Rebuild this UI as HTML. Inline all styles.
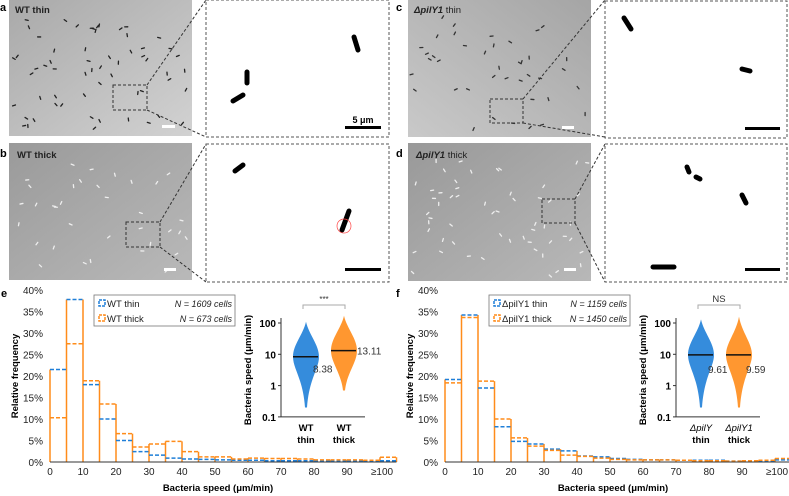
<!DOCTYPE html>
<html><head><meta charset="utf-8">
<style>
body{margin:0;background:#fff;}
svg{display:block;font-family:"Liberation Sans",Arial,sans-serif;}
</style></head>
<body>
<svg id="fig" width="789" height="496" viewBox="0 0 789 496" xmlns="http://www.w3.org/2000/svg">
<defs>
<linearGradient id="g1" x1="0" y1="0" x2="1" y2="1"><stop offset="0" stop-color="#a9a9a9"/><stop offset="1" stop-color="#d2d2d2"/></linearGradient>
<linearGradient id="g2" x1="0" y1="0" x2="1" y2="1"><stop offset="0" stop-color="#9a9a9a"/><stop offset="1" stop-color="#b9b9b9"/></linearGradient>
<linearGradient id="g3" x1="1" y1="0" x2="0" y2="1"><stop offset="0" stop-color="#a5a5a5"/><stop offset="1" stop-color="#c9c9c9"/></linearGradient>
<linearGradient id="g4" x1="0" y1="0" x2="1" y2="1"><stop offset="0" stop-color="#999"/><stop offset="1" stop-color="#b8b8b8"/></linearGradient>
</defs>
<g id="micro">
 <text x="0" y="11" font-size="11" font-weight="bold">a</text>
 <rect x="9" y="0" width="183" height="136" fill="url(#g1)"/>
 <g id="specksA"></g>
 <text x="15" y="13" font-size="9.5" font-weight="bold" fill="#222">WT thin</text>
 <rect x="113" y="85" width="34" height="25" fill="none" stroke="#333" stroke-dasharray="3,2"/>
 <line x1="147" y1="85" x2="206" y2="0" stroke="#333" stroke-dasharray="3,2"/>
 <line x1="147" y1="110" x2="206" y2="137" stroke="#333" stroke-dasharray="3,2"/>
 <rect x="162" y="125" width="13" height="3" fill="#fff"/>
 <rect x="206" y="0" width="183" height="137" fill="#fff" stroke="#555" stroke-dasharray="3,2"/>
 <rect x="345" y="126" width="36" height="3" fill="#000"/>
 <text x="363" y="123" font-size="9" font-weight="bold" text-anchor="middle">5 μm</text>
 <line x1="358" y1="50" x2="354" y2="37" stroke="#000" stroke-width="5" stroke-linecap="round"/>
 <line x1="247" y1="83" x2="247" y2="72" stroke="#000" stroke-width="5" stroke-linecap="round"/>
 <line x1="233" y1="101" x2="243" y2="95" stroke="#000" stroke-width="5" stroke-linecap="round"/>

 <text x="0" y="157" font-size="11" font-weight="bold">b</text>
 <rect x="9" y="143" width="183" height="137" fill="url(#g2)"/>
 <g id="specksB"></g>
 <text x="17" y="158" font-size="9.5" font-weight="bold" fill="#222">WT thick</text>
 <rect x="126" y="222" width="34" height="25" fill="none" stroke="#333" stroke-dasharray="3,2"/>
 <line x1="160" y1="222" x2="206" y2="144" stroke="#333" stroke-dasharray="3,2"/>
 <line x1="160" y1="247" x2="206" y2="282" stroke="#333" stroke-dasharray="3,2"/>
 <rect x="164" y="268" width="12" height="3" fill="#fff"/>
 <rect x="206" y="144" width="183" height="138" fill="#fff" stroke="#555" stroke-dasharray="3,2"/>
 <rect x="345" y="268" width="36" height="3" fill="#000"/>
 <line x1="235" y1="171" x2="243" y2="165" stroke="#000" stroke-width="5" stroke-linecap="round"/>
 <line x1="342" y1="230" x2="349" y2="211" stroke="#000" stroke-width="5" stroke-linecap="round"/>
 <circle cx="344" cy="226" r="7" fill="none" stroke="#f44" stroke-width="0.7"/>

 <text x="396" y="11" font-size="11" font-weight="bold">c</text>
 <rect x="408" y="0" width="183" height="137" fill="url(#g3)"/>
 <g id="specksC"></g>
 <text x="414" y="13" font-size="9.5" fill="#222"><tspan font-style="italic" font-weight="bold">ΔpilY1</tspan> thin</text>
 <rect x="490" y="99" width="33" height="24" fill="none" stroke="#333" stroke-dasharray="3,2"/>
 <line x1="523" y1="99" x2="605" y2="0" stroke="#333" stroke-dasharray="3,2"/>
 <line x1="523" y1="123" x2="605" y2="137" stroke="#333" stroke-dasharray="3,2"/>
 <rect x="562" y="126" width="12" height="3" fill="#fff"/>
 <rect x="605" y="1" width="182" height="137" fill="#fff" stroke="#555" stroke-dasharray="3,2"/>
 <rect x="745" y="127" width="35" height="3" fill="#000"/>
 <line x1="624" y1="18" x2="631" y2="29" stroke="#000" stroke-width="5" stroke-linecap="round"/>
 <line x1="742" y1="69" x2="750" y2="71" stroke="#000" stroke-width="5" stroke-linecap="round"/>

 <text x="396" y="157" font-size="11" font-weight="bold">d</text>
 <rect x="408" y="143" width="183" height="138" fill="url(#g4)"/>
 <g id="specksD"></g>
 <text x="416" y="158" font-size="9.5" fill="#222"><tspan font-style="italic" font-weight="bold">ΔpilY1</tspan>  thick</text>
 <rect x="542" y="199" width="33" height="24" fill="none" stroke="#333" stroke-dasharray="3,2"/>
 <line x1="575" y1="199" x2="605" y2="144" stroke="#333" stroke-dasharray="3,2"/>
 <line x1="575" y1="223" x2="605" y2="282" stroke="#333" stroke-dasharray="3,2"/>
 <rect x="564" y="268" width="12" height="3" fill="#fff"/>
 <rect x="605" y="144" width="182" height="138" fill="#fff" stroke="#555" stroke-dasharray="3,2"/>
 <rect x="745" y="268" width="35" height="3" fill="#000"/>
 <line x1="687" y1="167" x2="689" y2="172" stroke="#000" stroke-width="5" stroke-linecap="round"/>
 <line x1="696" y1="177" x2="700" y2="179" stroke="#000" stroke-width="5" stroke-linecap="round"/>
 <line x1="742" y1="195" x2="746" y2="203" stroke="#000" stroke-width="5" stroke-linecap="round"/>
 <line x1="653" y1="267" x2="674" y2="267" stroke="#000" stroke-width="5" stroke-linecap="round"/>
</g>
<g id="chartE"></g>
<g id="chartF"></g>
</svg>
<script>
// Data for panel e
const binLabels = ["0","10","20","30","40","50","60","70","80","90","≥100"];
const eThin  = [21.5,37.8,18.0,10.0,5.0,2.4,1.6,0.9,0.7,0.6,0.5,0.4,0.4,0.3,0.3,0.3,0.3,0.2,0.2,0.2,0.3];
const eThick = [10.3,27.5,18.9,13.5,6.6,3.5,4.2,4.8,2.4,1.2,1.2,0.7,0.9,0.8,0.8,0.7,0.5,0.5,0.5,0.4,1.1];
// Data for panel f
const fThin  = [19.2,34.2,17.2,8.2,4.8,4.2,3.0,2.6,1.4,1.2,0.8,0.6,0.5,0.5,0.4,0.4,0.4,0.2,0.2,0.2,0.5];
const fThick = [18.4,33.6,18.8,10.0,5.6,3.7,2.7,1.6,1.3,0.9,0.6,0.5,0.5,0.5,0.4,0.3,0.3,0.2,0.3,0.4,0.8];
const yTicks = [0,5,10,15,20,25,30,35,40];
const insetTicks = [100,10,1,0.1];
const eMedians = [8.38,13.11];
const fMedians = [9.61,9.59];
const eRanges = [[0.2,110],[0.7,170]];
const fRanges = [[0.2,130],[0.2,160]];

const NS="http://www.w3.org/2000/svg";
const BLUE="#1f7fd8", ORANGE="#ff8c1a";
function mk(parent,tag,attrs,text){const e=document.createElementNS(NS,tag);for(const k in attrs)e.setAttribute(k,attrs[k]);if(text!==undefined)e.textContent=text;parent.appendChild(e);return e;}

// decorative cell specks in microscopy images (texture only)
let seed=7;function rnd(){seed=(seed*9301+49297)%233280;return seed/233280;}
[['specksA',9,0,'#222',60],['specksB',9,143,'#eee',35],['specksC',408,0,'#333',40],['specksD',408,143,'#eee',55]].forEach(([id,x,y,c,n])=>{
  const g=document.getElementById(id);
  
  
  for(let i=0;i<n;i++){const px=x+5+rnd()*173,py=y+18+rnd()*115,a=rnd()*6.28;
    mk(g,'line',{x1:px,y1:py,x2:px+3*Math.cos(a),y2:py+3*Math.sin(a),stroke:c,'stroke-width':1.3,'stroke-linecap':'round'});}
});

function drawChart(gid,ox,letter,thin,thick,names,ns,meds,ranges,sig,cats){
  const g=document.getElementById(gid);
  
  
  const x0=ox+50, pxPerUnit=3.3, y0=462, pxPerPct=172/40;
  const X=v=>x0+v*pxPerUnit, Y=p=>y0-p*pxPerPct;
  const lab=mk(g,'text',{x:ox+1,y:297,'font-size':11,'font-weight':'bold'},letter);
  
  
  yTicks.forEach(t=>{const tx=mk(g,'text',{x:ox+43,y:Y(t)+4,'font-size':10,'text-anchor':'end',fill:'#222'},t+'%');
    
    });
  binLabels.forEach((t,i)=>{const tx=mk(g,'text',{x:X(i*10)+(i==10?2:0),y:475,'font-size':10,'text-anchor':'middle',fill:'#222'},t);
    
    });
  const yt=mk(g,'text',{x:0,y:0,'font-size':9.5,'font-weight':'bold','text-anchor':'middle',transform:`translate(${ox+18},376) rotate(-90)`},'Relative frequency');
  
  
  const xt=mk(g,'text',{x:ox+218,y:491,'font-size':9.5,'font-weight':'bold','text-anchor':'middle'},'Bacteria speed (μm/min)');
  
  
  for(let i=0;i<thin.length;i++){
    const a=X(i*5);
    const h=Math.max(thin[i],thick[i]);
    const hp=i>0?Math.max(thin[i-1],thick[i-1]):0;
    const v=mk(g,'line',{x1:a,x2:a,y1:y0,y2:Y(Math.max(h,hp)),stroke:ORANGE,'stroke-width':1.5});
    
    
  }
  const last=thin.length;
  mk(g,'line',{x1:X(last*5),x2:X(last*5),y1:y0,y2:Y(Math.max(thin[last-1],thick[last-1])),stroke:ORANGE,'stroke-width':1.5});
  [[thin,BLUE],[thick,ORANGE]].forEach(([arr,c],si)=>{
    arr.forEach((v,i)=>{
      const ln=mk(g,'line',{x1:X(i*5),x2:X(i*5+5),y1:Y(v),y2:Y(v),stroke:c,'stroke-width':1.5,'stroke-dasharray':'4,2'});
      
      
    });
  });
  mk(g,'line',{x1:x0,x2:X(105),y1:y0,y2:y0,stroke:'#333','stroke-width':1});
  const lg=mk(g,'g',{});
  
  
  mk(lg,'rect',{x:ox+94,y:295,width:141,height:31,fill:'#fff',stroke:'#777','stroke-width':0.8});
  [[BLUE,names[0],ns[0],307],[ORANGE,names[1],ns[1],322]].forEach(([c,n,nn,yy])=>{
    const e=mk(lg,'g',{});
    
    
    mk(e,'rect',{x:ox+99,y:yy-7,width:6,height:6,fill:'none',stroke:c,'stroke-width':1.5,'stroke-dasharray':'3,1'});
    mk(e,'text',{x:ox+107,y:yy,'font-size':9.5,fill:'#222'},n);
    mk(e,'text',{x:ox+232,y:yy,'font-size':9,'font-style':'italic','text-anchor':'end',fill:'#222'},'N = '+nn+' cells');
  });
  const ins=mk(g,'g',{});
  
  
  const ax=ox+281, LY=v=>323+(2-Math.log10(v))*31.3;
  mk(ins,'line',{x1:ax,x2:ax,y1:318,y2:LY(0.1),stroke:'#333'});
  mk(ins,'line',{x1:ax,x2:ox+365,y1:LY(0.1),y2:LY(0.1),stroke:'#333'});
  insetTicks.forEach(t=>{mk(ins,'line',{x1:ax-3,x2:ax,y1:LY(t),y2:LY(t),stroke:'#333'});
    const tx=mk(ins,'text',{x:ax-5,y:LY(t)+4,'font-size':10,'font-weight':'bold','text-anchor':'end'},String(t));
    
    });
  const it=mk(ins,'text',{x:0,y:0,'font-size':9.5,'font-weight':'bold','text-anchor':'middle',transform:`translate(${ox+251},370) rotate(-90)`},'Bacteria speed (μm/min)');
  
  
  const cx=[ox+306,ox+344], cols=[BLUE,ORANGE];
  [0,1].forEach(k=>{
    const m=meds[k], lo=ranges[k][0], hi=ranges[k][1];
    const ym=LY(m), yt2=LY(hi), yb=LY(lo);
    const w=13, wt=13;
    const d=`M${cx[k]},${yt2} C${cx[k]+3},${ym-22} ${cx[k]+wt},${ym-12} ${cx[k]+wt},${ym} C${cx[k]+wt},${ym+12} ${cx[k]+3},${ym+22} ${cx[k]+1},${yb} L${cx[k]-1},${yb} C${cx[k]-3},${ym+22} ${cx[k]-w},${ym+12} ${cx[k]-w},${ym} C${cx[k]-w},${ym-12} ${cx[k]-3},${ym-22} ${cx[k]},${yt2}Z`;
    const p=mk(ins,'path',{d:d,fill:cols[k],opacity:0.9});
    
    
    const ml=mk(ins,'line',{x1:cx[k]-13,x2:cx[k]+12,y1:ym,y2:ym,stroke:'#111','stroke-width':1.5});
    
    
    const isE=letter==='e';
    const lx=(isE&&k===1)?cx[k]+13:cx[k]+7, ly=(isE&&k===1)?ym+4:ym+(isE?16:18);
    const mt=mk(ins,'text',{x:lx,y:ly,'font-size':10,fill:'#333'},m.toFixed(2));
    
    
    const c1=mk(ins,'text',{x:cx[k],y:431,'font-size':9.5,'font-weight':cats[k][2]?'normal':'bold','font-style':cats[k][2]?'italic':'normal','text-anchor':'middle'},cats[k][0]);
    
    
    mk(ins,'text',{x:cx[k],y:443,'font-size':9.5,'font-weight':'bold','text-anchor':'middle'},cats[k][1]);
  });
  mk(ins,'path',{d:`M${cx[0]-3},${309} V305 H${cx[1]+1} V309`,fill:'none',stroke:'#aaa','stroke-width':1});
  const st=mk(ins,'text',{x:(cx[0]+cx[1])/2-1,y:302,'font-size':sig==='NS'?9.5:8,'text-anchor':'middle',fill:'#333'},sig);
  
  
}
drawChart('chartE',0,'e',eThin,eThick,['WT thin','WT thick'],[1609,673],eMedians,eRanges,'***',[['WT','thin'],['WT','thick']]);
drawChart('chartF',395,'f',fThin,fThick,['ΔpilY1 thin','ΔpilY1 thick'],[1159,1450],fMedians,fRanges,'NS',[['ΔpilY','thin',1],['ΔpilY1','thick',1]]);
</script>
</body></html>
